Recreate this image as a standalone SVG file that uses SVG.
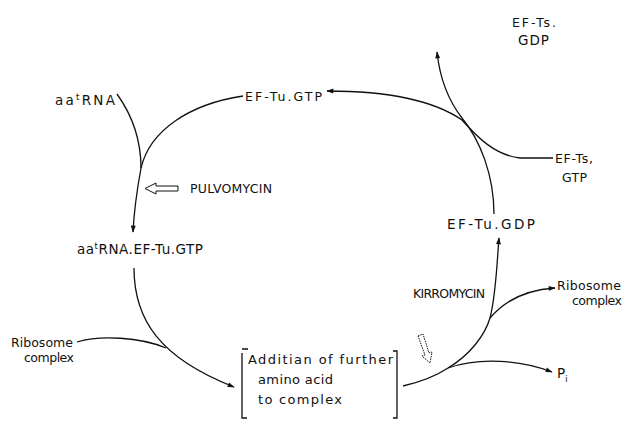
<svg xmlns="http://www.w3.org/2000/svg" width="626" height="423" viewBox="0 0 626 423">
  <style>
    text { font-family: "DejaVu Sans", "Liberation Sans", sans-serif; font-size: 12.5px; fill: #111; }
    .big { font-size: 13.5px; }
    .box text { font-size: 13px; }
    .ln { fill: none; stroke: #111; stroke-width: 1.3; }
    .hollow { fill: #fff; stroke: #111; stroke-width: 1; }
  </style>
  <defs>
    <marker id="ah" viewBox="0 0 10 10" refX="9" refY="5" markerWidth="8" markerHeight="7" orient="auto" markerUnits="userSpaceOnUse">
      <path d="M0,1.5 L10,5 L0,8.5 z" fill="#111"/>
    </marker>
  </defs>
  <rect width="626" height="423" fill="#fff"/>

  <g id="connectors">
    <!-- aa-tRNA joins the EF-Tu.GTP stream -->
    <path class="ln" d="M117,94 C132,115 141,140 141,168"/>
    <!-- EF-Tu.GTP down to the ternary complex -->
    <path class="ln" d="M243,96 C190,104 150,130 141,168 C137,190 134,212 133,232" marker-end="url(#ah)"/>
    <!-- ternary complex to the ribosome step -->
    <path class="ln" d="M134,268 C134,320 160,358 234,387" marker-end="url(#ah)"/>
    <!-- ribosome complex enters -->
    <path class="ln" d="M77,342 C100,335 140,337 166,348"/>
    <!-- release from the complex -->
    <path class="ln" d="M403,386 C420,382 436,376 448,368"/>
    <path class="ln" d="M448,368 C470,355 485,335 490,318 C496,295 497,262 499,238" marker-end="url(#ah)"/>
    <path class="ln" d="M490,318 C505,300 525,290 555,288" marker-end="url(#ah)"/>
    <path class="ln" d="M448,368 C480,357 520,360 552,372" marker-end="url(#ah)"/>
    <!-- EF-Tu.GDP back up, releasing EF-Ts.GDP -->
    <path class="ln" d="M494,214 C494,175 480,140 462,118 C448,100 440,80 437,52" marker-end="url(#ah)"/>
    <!-- EF-Ts,GTP in, regenerating EF-Tu.GTP -->
    <path class="ln" d="M553,158 L520,158 C495,155 478,138 462,120 C430,98 380,91 327,91" marker-end="url(#ah)"/>
    <!-- antibiotic hollow arrows -->
    <path class="hollow" d="M178,186 L156,186 L156,183 L145,188.5 L156,194 L156,191 L178,191 z"/>
    <path class="hollow" stroke-dasharray="1.5 1" d="M418,336 L423,334 L429,353 L432,352 L430,363 L422,356 L425,355 z"/>
  </g>

  <g id="n-efts-gdp"><text x="512" y="27" textLength="44" lengthAdjust="spacing">EF-Ts.</text><text class="big" x="518" y="45" textLength="31" lengthAdjust="spacing">GDP</text></g>
  <g id="n-eftu-gtp"><text x="245" y="101" textLength="77" lengthAdjust="spacing">EF-Tu.GTP</text></g>
  <g id="n-aatrna"><text class="big" x="55" y="105" textLength="60" lengthAdjust="spacing">aa<tspan font-size="8.5" dy="-5">t</tspan><tspan dy="5">RNA</tspan></text></g>
  <g id="n-pulvomycin"><text x="190" y="193" textLength="82" lengthAdjust="spacing">PULVOMYCIN</text></g>
  <g id="n-ternary"><text class="big" x="77" y="254" textLength="126" lengthAdjust="spacing">aa<tspan font-size="8.5" dy="-5">t</tspan><tspan dy="5">RNA.EF-Tu.GTP</tspan></text></g>
  <g id="n-efts-gtp"><text x="555" y="163" textLength="38" lengthAdjust="spacing">EF-Ts,</text><text x="562" y="182" textLength="25" lengthAdjust="spacing">GTP</text></g>
  <g id="n-eftu-gdp"><text class="big" x="447" y="229" textLength="88" lengthAdjust="spacing">EF-Tu.GDP</text></g>
  <g id="n-ribosome-out"><text x="557" y="290" textLength="64" lengthAdjust="spacing">Ribosome</text><text x="572" y="305" textLength="50" lengthAdjust="spacing">complex</text></g>
  <g id="n-kirromycin"><text x="413" y="298" textLength="72" lengthAdjust="spacing">KIRROMYCIN</text></g>
  <g id="n-ribosome-in"><text x="11" y="347" textLength="62" lengthAdjust="spacing">Ribosome</text><text x="24" y="362" textLength="50" lengthAdjust="spacing">complex</text></g>
  <g id="n-addition" class="box">
    <path class="ln" d="M242,349 L248,349 M242,353 L242,418 L247,418 M393,351 L397,351 L397,418 L393,418"/>
    <text x="248" y="364" textLength="145" lengthAdjust="spacing">Additian of further</text>
    <text x="258" y="384" textLength="75" lengthAdjust="spacing">amino acid</text>
    <text x="258" y="404" textLength="84" lengthAdjust="spacing">to complex</text>
  </g>
  <g id="n-pi"><text class="big" x="557" y="378">P<tspan font-size="8.5" dy="4">i</tspan></text></g>
</svg>
